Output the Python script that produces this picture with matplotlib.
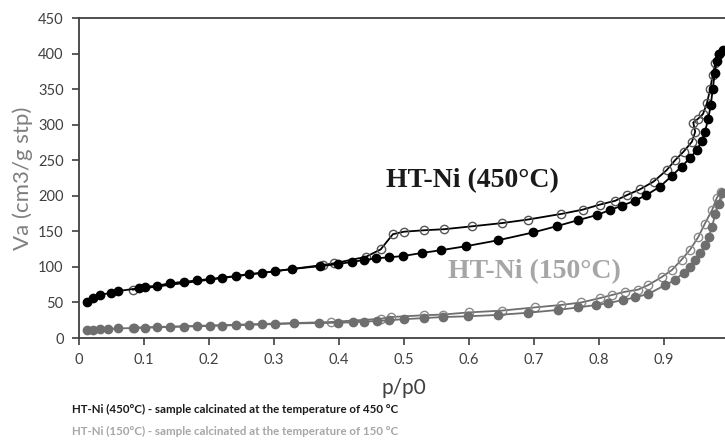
import matplotlib
matplotlib.use("Agg")
import matplotlib.pyplot as plt

# HT-Ni (450 C) - adsorption (filled) and desorption (open)
x450_ads = [0.012, 0.022, 0.032, 0.049, 0.06, 0.092, 0.102, 0.12, 0.14, 0.161,
            0.182, 0.202, 0.22, 0.241, 0.261, 0.282, 0.302, 0.328, 0.37, 0.398,
            0.42, 0.439, 0.457, 0.477, 0.498, 0.527, 0.557, 0.595, 0.645, 0.699,
            0.736, 0.767, 0.797, 0.817, 0.835, 0.855, 0.873, 0.894, 0.912, 0.927,
            0.94, 0.951, 0.958, 0.963, 0.968, 0.972, 0.975, 0.978, 0.981, 0.985, 0.99]
y450_ads = [51, 56.5, 60.5, 63.5, 66, 70, 72, 73.5, 77, 79,
            81, 83, 85, 87, 90, 91.5, 94, 97, 101, 104,
            107, 109.7, 112, 113.5, 115.2, 119.5, 123.5, 129, 137.5, 148.5,
            157.5, 165.5, 173, 180, 186, 193, 201, 213, 228, 241,
            253, 265, 277, 290, 308, 328, 350, 372, 390, 400, 405]
x450_des = [0.083, 0.375, 0.392, 0.441, 0.464, 0.483, 0.5, 0.531, 0.562, 0.604,
            0.65, 0.69, 0.742, 0.775, 0.801, 0.825, 0.843, 0.863, 0.884, 0.904,
            0.917, 0.93, 0.943, 0.948, 0.945, 0.952, 0.96, 0.966, 0.971, 0.975,
            0.979, 0.984, 0.99]
y450_des = [68, 102.7, 105, 114, 124.5, 146, 149.5, 151.5, 153, 157,
            161.5, 166.5, 174.5, 180.5, 187.5, 193, 201, 209, 220, 236,
            250, 262, 276, 290, 303, 308, 315, 330, 350, 370,
            387, 400, 404]

# HT-Ni (150 C)
x150_ads = [0.012, 0.022, 0.032, 0.044, 0.06, 0.084, 0.102, 0.12, 0.14, 0.161,
            0.182, 0.202, 0.22, 0.241, 0.261, 0.282, 0.302, 0.331, 0.369, 0.398,
            0.421, 0.439, 0.459, 0.477, 0.5, 0.531, 0.56, 0.598, 0.645, 0.691,
            0.737, 0.768, 0.796, 0.814, 0.837, 0.855, 0.876, 0.902, 0.917, 0.93,
            0.94, 0.948, 0.956, 0.963, 0.969, 0.974, 0.979, 0.984, 0.989]
y150_ads = [11, 11.5, 12, 12.5, 13.5, 14, 14.5, 15, 15.5, 16,
            16.5, 17, 17.5, 18, 18.5, 19, 19.5, 20.5, 21, 21.5,
            22, 23, 24, 25, 26.5, 28, 29.5, 30.5, 32.5, 35.5,
            39.5, 43, 46.5, 49, 53.5, 57, 62, 74.5, 81.5, 92,
            100, 110, 119, 131, 142.5, 156.5, 175, 189, 204]
x150_des = [0.083, 0.387, 0.464, 0.48, 0.531, 0.56, 0.6, 0.65, 0.701, 0.742,
            0.773, 0.801, 0.82, 0.84, 0.86, 0.876, 0.897, 0.912, 0.927, 0.94,
            0.953, 0.963, 0.974, 0.981, 0.987]
y150_des = [14.5, 22.5, 27, 29.5, 32, 33, 36, 38.5, 43, 46.5,
            50, 56, 60.5, 65, 68, 74.5, 86, 95.5, 110, 124,
            142.5, 161, 180, 196.5, 206]

x_ticks = [0, 0.1, 0.2, 0.3, 0.4, 0.5, 0.6, 0.7, 0.8, 0.9, 1]
x_ticklabels = ["0", "0.1", "0.2", "0.3", "0.4", "0.5", "0.6", "0.7", "0.8", "0.9", "1"]
y_ticks = [0, 50, 100, 150, 200, 250, 300, 350, 400, 450]

BLACK = "#000000"
GREY = "#6e6e6e"
SANS = ["Lato", "DejaVu Sans"]

fig = plt.figure(figsize=(7.25, 4.45), dpi=100)
ax = fig.add_axes([79 / 725, 107 / 445, 650 / 725, 320 / 445])

# 150 C series first so black sits on top
ax.plot(x150_des, y150_des, "-o", color=GREY, lw=1.3, ms=6, mfc="none",
        mec="#8a8a8a", mew=1.0)
ax.plot(x150_ads, y150_ads, "-o", color=GREY, lw=1.3, ms=6, mfc=GREY, mec=GREY)
ax.plot(x450_des, y450_des, "-o", color=BLACK, lw=1.3, ms=6, mfc="none",
        mec="#555555", mew=1.0)
ax.plot(x450_ads, y450_ads, "-o", color=BLACK, lw=1.3, ms=6, mfc=BLACK, mec=BLACK)

ax.set_xlim(0, 1)
ax.set_ylim(0, 450)
ax.set_xticks(x_ticks)
ax.set_xticklabels(x_ticklabels)
ax.set_yticks(y_ticks)
for lab in ax.get_xticklabels() + ax.get_yticklabels():
    lab.set_fontfamily(SANS)
    lab.set_fontsize(10.5)
    lab.set_color("#404040")
ax.tick_params(direction="out", length=5, width=1.2, color="#404040", pad=6)

for side in ["left", "top", "bottom", "right"]:
    ax.spines[side].set_color("#404040")
    ax.spines[side].set_linewidth(1.3)

ax.set_xlabel("p/p0", family=SANS, fontsize=15, color="#404040", labelpad=8)
ax.set_ylabel("Va (cm3/g stp)", family=SANS, fontsize=16, color="#7f7f7f", labelpad=4)

ax.text(0.605, 222, "HT-Ni (450°C)", family="Liberation Serif", weight="bold",
        fontsize=20, color="#1a1a1a", ha="center", va="center")
ax.text(0.70, 93, "HT-Ni (150°C)", family="Liberation Serif", weight="bold",
        fontsize=20, color="#a6a6a6", ha="center", va="center")

fig.text(72 / 725, 1 - 409 / 445, "HT-Ni (450°C) - sample calcinated at the temperature of 450 °C",
         family=SANS, weight="bold", fontsize=8.3, color="#1a1a1a", va="center")
fig.text(72 / 725, 1 - 431 / 445, "HT-Ni (150°C) - sample calcinated at the temperature of 150 °C",
         family=SANS, weight="bold", fontsize=8.3, color="#a6a6a6", va="center")

fig.savefig("out.png", dpi=100)
